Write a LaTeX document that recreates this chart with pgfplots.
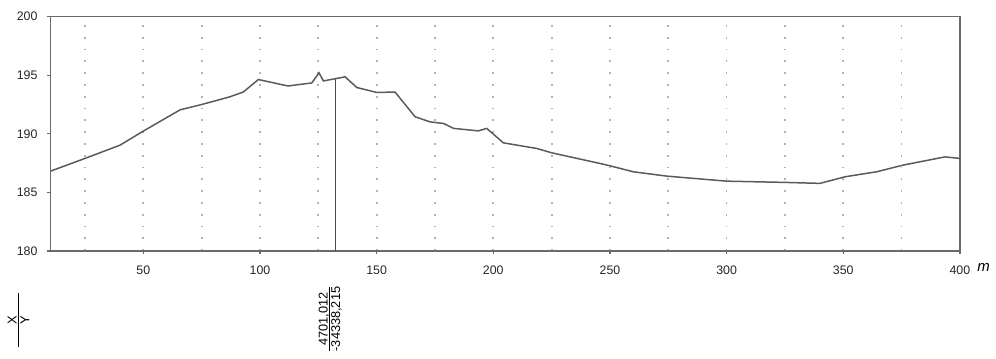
\documentclass[border=0pt]{standalone}
\usepackage{pgfplots}
\pgfplotsset{compat=1.18}
\usepackage{fontspec}
\setmainfont{Liberation Sans}
\definecolor{frame}{HTML}{6A6A6A}
\definecolor{curve}{HTML}{5A5A5A}
\begin{document}
\begin{tikzpicture}
\path[use as bounding box] (0,0) rectangle (498bp,-179.5bp);
\begin{axis}[
  at={(25.35bp,-125.5bp)}, anchor=south west,
  scale only axis, width=454.6bp, height=117.2bp,
  xmin=10.3, xmax=400, ymin=180, ymax=200,
  axis line style={frame, line width=0.6pt},
  xtick={50,100,...,400}, ytick={180,185,...,200},
  minor xtick={25,50,...,375},
  xmajorgrids=false, xminorgrids=true,
  minor grid style={gray!60, line width=0.9pt, dash pattern=on 0.9bp off 5bp},
  minor tick length=0pt,
  tick align=outside, major tick length=1.6bp,
  tick style={frame, line width=0.6pt},
  xtick pos=bottom, ytick pos=left,
  tick label style={font=\fontsize{6.2}{7}\selectfont, text=black!85},
  /pgf/number format/assume math mode=true,
  /pgf/number format/1000 sep={},
  xticklabel style={yshift=-2.5bp},
  yticklabel style={xshift=-1.5bp},
  clip=false,
]
\addplot[curve, line width=0.75pt] coordinates {
(10.3,186.82) (25,187.9) (40,189.03) (50,190.23) (65.7,192.04) (75,192.5)
(87,193.15) (92.9,193.57) (99.3,194.63) (112,194.08) (122.2,194.34)
(125.3,195.2) (127.2,194.51) (132.2,194.7) (136.5,194.86) (141.5,193.95)
(150,193.53) (157.9,193.56) (166.5,191.45) (172.9,191.02) (178.7,190.88)
(183,190.46) (193.6,190.25) (197.2,190.46) (204.3,189.23) (218.6,188.75)
(225,188.38) (245.7,187.47) (250,187.27) (260,186.76) (274.3,186.39)
(300,185.96) (325.7,185.85) (340,185.77) (350.7,186.33) (364.3,186.76)
(375.7,187.33) (393.6,188.03) (400,187.9)
};
\addplot[black!70, line width=0.6pt] coordinates {(132.2,180) (132.2,194.7)};
\node[anchor=west, inner sep=0pt, font=\fontsize{7.5}{8}\selectfont\itshape] at (axis cs:407.3,180) [yshift=-8.3bp] {m};
\end{axis}
\node[rotate=90, font=\fontsize{6.5}{7.5}\selectfont, inner sep=0pt] at (10bp,-160bp)
  {\begin{tabular}{@{}c@{}}\makebox[27bp]{X}\\[-1.5pt]\hline\makebox[27bp]{Y}\end{tabular}};
\node[rotate=90, font=\fontsize{6.4}{7.4}\selectfont, inner sep=0pt] at (165.5bp,-159.5bp)
  {\begin{tabular}{@{}c@{}}4701,012\\[-1.5pt]\hline -34338,215\end{tabular}};
\end{tikzpicture}
\end{document}
